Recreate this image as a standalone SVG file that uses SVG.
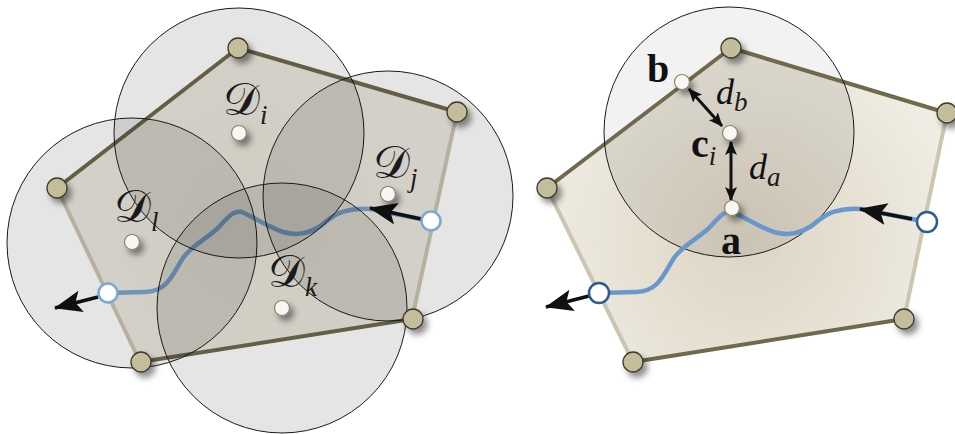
<svg xmlns="http://www.w3.org/2000/svg" width="955" height="434" viewBox="0 0 955 434">
<defs>
<style>
.dark{stroke:#6f6a4c;stroke-width:4;fill:none;stroke-linecap:round}
.light{stroke:#cbc6b2;stroke-width:4;fill:none;stroke-linecap:round}
.disc{fill:#000;fill-opacity:0.1;stroke:#1a1a1a;stroke-width:1}
.vert{fill:#c4bd9b;stroke:#3d3a28;stroke-width:1.3;filter:url(#sh)}
.dot{fill:#f7f7f5;stroke:#8c8567;stroke-width:1.2;filter:url(#sh)}
.path{fill:none;stroke-width:4.5;stroke-linecap:round;stroke-linejoin:round}
.arr{stroke:#111;stroke-width:3.5;fill:none}
.darr{stroke:#111;stroke-width:3;fill:none}
.cal{font-family:"DejaVu Serif","DejaVu Sans","Noto Sans",serif;font-size:46px;fill:#1a1a1a}
.sub{font-family:"Liberation Serif",serif;font-style:italic;font-size:27px;fill:#1a1a1a}
.bold{font-family:"Liberation Serif",serif;font-weight:bold;font-size:40px;fill:#111}
.it{font-family:"Liberation Serif",serif;font-style:italic;font-size:36px;fill:#111}
</style>
<filter id="sh" x="-60%" y="-60%" width="260%" height="260%">
<feDropShadow dx="4" dy="5" stdDeviation="3" flood-color="#000" flood-opacity="0.45"/>
</filter>
<marker id="big" markerUnits="userSpaceOnUse" markerWidth="32" markerHeight="24" refX="27" refY="11" orient="auto">
<path d="M0,0 L28,11 L0,22 L6,11 z" fill="#111"/>
</marker>
<marker id="small" markerUnits="userSpaceOnUse" markerWidth="16" markerHeight="14" refX="13" refY="6" orient="auto-start-reverse">
<path d="M0,0 L14,6 L0,12 L3,6 z" fill="#111"/>
</marker>
<radialGradient id="polyL" cx="250" cy="230" r="230" gradientUnits="userSpaceOnUse">
<stop offset="0" stop-color="#e8e5d8"/>
<stop offset="1" stop-color="#ebe9e1"/>
</radialGradient>
<radialGradient id="polyR" cx="745" cy="240" r="220" gradientUnits="userSpaceOnUse">
<stop offset="0" stop-color="#ddd4c3"/>
<stop offset="1" stop-color="#f0ede4"/>
</radialGradient>
<clipPath id="clipR"><polygon points="731,48 947,113 904,319 633,362 547,188"/></clipPath>
<path id="curve" d="M431,221 L370,209 C355,208 340,210 328,220 C315,232 300,237 283,232 C268,227 255,218 242,212 C232,210 228,218 218,228 C205,240 192,245 183,258 C172,275 168,291 145,292 L108,293"/>
</defs>
<rect width="955" height="434" fill="#fff"/>

<g id="left-panel">
<g id="polygon-left">
<polygon points="238,48 457,112 412,319 140,362 57,188" fill="url(#polyL)"/>
<line class="light" x1="457" y1="112" x2="412" y2="319"/>
<line class="light" x1="140" y1="362" x2="57" y2="188"/>
<line class="dark" x1="57" y1="188" x2="238" y2="48"/>
<line class="dark" x1="238" y1="48" x2="457" y2="112"/>
<line class="dark" x1="412" y1="319" x2="140" y2="362"/>
</g>
<g id="connectors-left">
<use href="#curve" class="path" stroke="#7ca4d0"/>
<line class="arr" x1="421" y1="219" x2="370" y2="208" marker-end="url(#big)"/>
<line class="arr" x1="98" y1="297" x2="55" y2="308" marker-end="url(#big)"/>
</g>
<g id="disc-l"><circle class="disc" cx="132" cy="243" r="125"/></g>
<g id="disc-i"><circle class="disc" cx="239" cy="133" r="125"/></g>
<g id="disc-j"><circle class="disc" cx="388" cy="196" r="125"/></g>
<g id="disc-k"><circle class="disc" cx="282" cy="308" r="125"/></g>
<g id="vertices-left">
<circle class="vert" cx="238" cy="48" r="10"/>
<circle class="vert" cx="457" cy="112" r="10"/>
<circle class="vert" cx="413" cy="319" r="10"/>
<circle class="vert" cx="141" cy="362" r="10"/>
<circle class="vert" cx="57" cy="188" r="10"/>
</g>
<g id="centers-left">
<circle class="dot" cx="239" cy="133" r="7.5"/>
<circle class="dot" cx="388" cy="194" r="7.5"/>
<circle class="dot" cx="132" cy="242" r="7.5"/>
<circle class="dot" cx="282" cy="308" r="7.5"/>
</g>
<g id="endpoints-left">
<circle cx="431" cy="221" r="9.5" fill="#fff" stroke="#7ea6d2" stroke-width="2.5"/>
<circle cx="108" cy="293" r="9.5" fill="#fff" stroke="#7ea6d2" stroke-width="2.5"/>
</g>
<g id="labels-left">
<text x="223" y="115"><tspan class="cal">𝒟</tspan><tspan class="sub" dx="0" dy="9">i</tspan></text>
<text x="373" y="178"><tspan class="cal">𝒟</tspan><tspan class="sub" dx="0" dy="9">j</tspan></text>
<text x="114" y="222"><tspan class="cal">𝒟</tspan><tspan class="sub" dx="0" dy="9">l</tspan></text>
<text x="268" y="287"><tspan class="cal">𝒟</tspan><tspan class="sub" dx="0" dy="9">k</tspan></text>
</g>
</g>

<g id="right-panel">
<g id="disc-right"><circle cx="729" cy="132" r="125" fill="#000" fill-opacity="0.05"/></g>
<g id="polygon-right">
<polygon points="731,48 947,113 904,319 633,362 547,188" fill="url(#polyR)"/>
<circle cx="729" cy="132" r="125" fill="#000" fill-opacity="0.08" clip-path="url(#clipR)"/>
<line class="light" x1="947" y1="113" x2="904" y2="319"/>
<line class="light" x1="633" y1="362" x2="547" y2="188"/>
<line class="dark" x1="547" y1="188" x2="731" y2="48"/>
<line class="dark" x1="731" y1="48" x2="947" y2="113"/>
<line class="dark" x1="904" y1="319" x2="633" y2="362"/>
</g>
<g id="disc-right-outline"><circle cx="729" cy="132" r="125" fill="none" stroke="#1a1a1a" stroke-width="1"/></g>
<g id="connectors-right">
<use href="#curve" class="path" stroke="#6a98cc" transform="translate(491,0)"/>
<line class="arr" x1="912" y1="219" x2="860" y2="209" marker-end="url(#big)"/>
<line class="arr" x1="589" y1="296" x2="546" y2="307" marker-end="url(#big)"/>
<line class="darr" x1="689" y1="89" x2="722" y2="126" marker-start="url(#small)" marker-end="url(#small)"/>
<line class="darr" x1="731" y1="142" x2="731" y2="200" marker-start="url(#small)" marker-end="url(#small)"/>
</g>
<g id="vertices-right">
<circle class="vert" cx="731" cy="48" r="10"/>
<circle class="vert" cx="947" cy="113" r="10"/>
<circle class="vert" cx="904" cy="319" r="10"/>
<circle class="vert" cx="633" cy="362" r="10"/>
<circle class="vert" cx="547" cy="188" r="10"/>
</g>
<g id="points-right">
<circle id="pt-b" class="dot" cx="682" cy="82" r="7.5"/>
<circle id="pt-c" class="dot" cx="730" cy="133" r="7.5"/>
<circle id="pt-a" class="dot" cx="732" cy="208" r="7.5"/>
</g>
<g id="endpoints-right">
<circle cx="927" cy="222" r="10" fill="#fff" stroke="#2e5b90" stroke-width="2.5"/>
<circle cx="599" cy="293" r="10" fill="#fff" stroke="#2e5b90" stroke-width="2.5"/>
</g>
<g id="labels-right">
<text class="bold" x="647" y="82">b</text>
<text x="691" y="157"><tspan class="bold">c</tspan><tspan class="sub" dx="0" dy="8">i</tspan></text>
<text class="bold" x="721" y="254">a</text>
<text x="716" y="104"><tspan class="it">d</tspan><tspan class="sub" dy="7">b</tspan></text>
<text x="749" y="179"><tspan class="it">d</tspan><tspan class="sub" dy="7">a</tspan></text>
</g>
</g>
</svg>
